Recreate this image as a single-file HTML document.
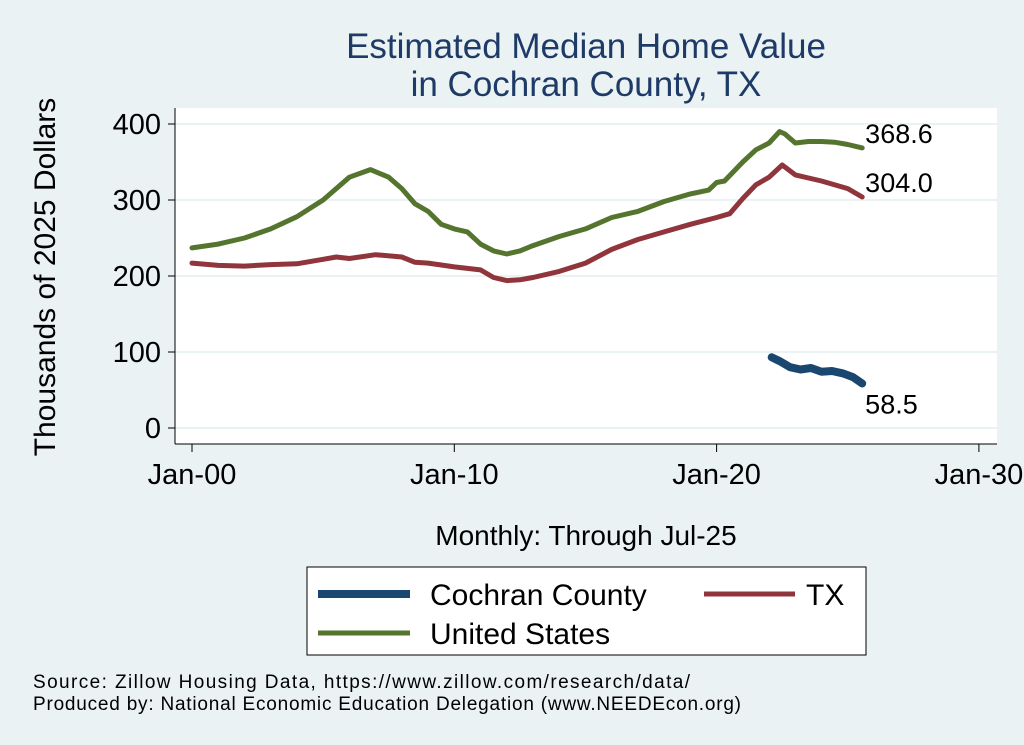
<!DOCTYPE html>
<html><head><meta charset="utf-8"><style>
body{margin:0;background:#eaf2f3;}
svg{display:block;font-family:"Liberation Sans",Arial,sans-serif;}
</style></head><body>
<svg id="chart" width="1024" height="745" viewBox="0 0 1024 745">
<rect x="0" y="0" width="1024" height="745" fill="#eaf2f3"/>
<text x="586" y="58" text-anchor="middle" font-size="35" fill="#1e3a66">Estimated Median Home Value</text>
<text x="586" y="96" text-anchor="middle" font-size="35" fill="#1e3a66">in Cochran County, TX</text>
<rect x="175" y="108" width="822" height="336" fill="#ffffff"/>
<g id="grid"></g>
<g id="yticks"></g>
<g id="xticks"></g>
<g id="series"></g>
<text transform="translate(55,277) rotate(-90)" text-anchor="middle" font-size="30" fill="#000">Thousands of 2025 Dollars</text>
<text x="586" y="545" text-anchor="middle" font-size="28" fill="#000">Monthly: Through Jul-25</text>
<g>
<rect x="307" y="567" width="559" height="88" fill="#fff" stroke="#000" stroke-width="1"/>
<line x1="318" y1="594" x2="410" y2="594" stroke="#1a476f" stroke-width="8"/>
<text x="430" y="605" font-size="30">Cochran County</text>
<line x1="704" y1="594" x2="795" y2="594" stroke="#90353b" stroke-width="5"/>
<text x="806" y="605" font-size="30">TX</text>
<line x1="318" y1="633" x2="410" y2="633" stroke="#55752f" stroke-width="5"/>
<text x="430" y="644" font-size="30">United States</text>
</g>
<text x="33" y="688" font-size="19" textLength="657">Source: Zillow Housing Data, https://www.zillow.com/research/data/</text>
<text x="33" y="710" font-size="19" textLength="708">Produced by: National Economic Education Delegation (www.NEEDEcon.org)</text>
</svg>
<script>
const yTicks=[0,100,200,300,400];
const xTickYears=[0,10,20,30];
const xTickLabels=["Jan-00","Jan-10","Jan-20","Jan-30"];
const usYears=[0,1,2,3,4,5,6,6.8,7.5,8,8.5,9,9.5,10,10.5,11,11.5,12,12.5,13,14,15,16,17,18,19,19.7,20,20.3,21,21.5,22,22.4,22.6,23,23.5,24,24.5,25,25.55];
const usValues=[237,242,250,262,278,300,330,340,330,315,295,285,268,262,258,242,233,229,233,240,252,262,277,285,298,308,313,323,325,350,366,375,390,387,375,377,377,376,373,368.6];
const txYears=[0,1,2,3,4,5,5.5,6,7,8,8.5,9,10,11,11.5,12,12.5,13,14,15,16,17,18,19,20,20.5,21,21.5,22,22.5,23,24,25,25.55];
const txValues=[217,214,213,215,216,222,225,223,228,225,218,217,212,208,198,194,195,198,206,217,235,248,258,268,277,282,302,320,330,346,333,325,315,304];
const coYears=[22.1,22.4,22.8,23.2,23.6,24,24.4,24.8,25.2,25.55];
const coValues=[93,88,80,77,79,74,75,72,67,58.5];
const NS="http://www.w3.org/2000/svg";
const X=y=>192+y*26.23, Y=v=>428-v*0.76;
function mk(tag,attrs,parent,txt){const e=document.createElementNS(NS,tag);for(const k in attrs)e.setAttribute(k,attrs[k]);if(txt!==undefined)e.textContent=txt;parent.appendChild(e);return e;}
const grid=document.getElementById('grid'),yt=document.getElementById('yticks'),xt=document.getElementById('xticks'),ser=document.getElementById('series');
mk('line',{x1:175,y1:108,x2:175,y2:444,stroke:'#000','stroke-width':1},yt);
yTicks.forEach(v=>{
 const g=mk('line',{x1:175,x2:997,y1:Y(v),y2:Y(v),stroke:'#eaf2f3','stroke-width':2},grid);
 
 
 mk('line',{x1:168,x2:175,y1:Y(v),y2:Y(v),stroke:'#000'},yt);
 const t=mk('text',{x:161,y:Y(v)+10,'text-anchor':'end','font-size':29},yt,String(v));
 
 
});
mk('line',{x1:175,y1:444,x2:997,y2:444,stroke:'#000','stroke-width':1},xt);
xTickYears.forEach((yr,i)=>{
 mk('line',{x1:X(yr),x2:X(yr),y1:444,y2:452,stroke:'#000'},xt);
 const t=mk('text',{x:X(yr),y:484,'text-anchor':'middle','font-size':29},xt,xTickLabels[i]);
 
 
});
function line(xs,vs,color,w,name){
 const d=xs.map((x,i)=>(i?'L':'M')+X(x).toFixed(1)+','+Y(vs[i]).toFixed(1)).join('');
 const p=mk('path',{d:d,fill:'none',stroke:color,'stroke-width':w,'stroke-linejoin':'round','stroke-linecap':'round'},ser);
 
 
 const last=xs.length-1;
 const t=mk('text',{x:X(xs[last])+3,y:Y(vs[last])+(name==='line-cochran'?30:-5),'font-size':27},ser,vs[last].toFixed(1));
 
 
}
line(usYears,usValues,'#55752f',5,'line-united-states');
line(txYears,txValues,'#90353b',5,'line-tx');
line(coYears,coValues,'#1a476f',8,'line-cochran');
</script>
</body></html>
